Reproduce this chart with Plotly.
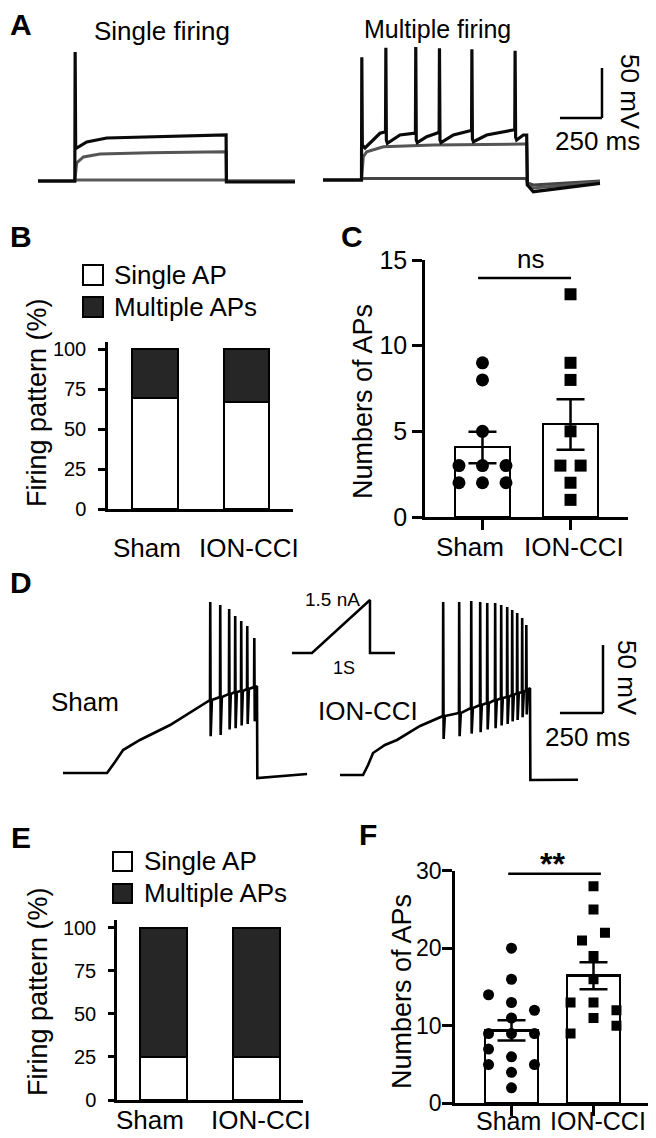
import plotly.graph_objects as go

# the page body keeps its default 8 px margin, so the figure is drawn 8 px in
W, H = 656, 1138
OFF = 8
FW, FH = W - OFF, H - OFF

# ---------------- panel A : step current traces (ms, mV) ----------------
single_top_t = [0, 219, 221, 224, 230, 290, 409, 666, 1113, 1119, 1121, 1529]
single_top_v = [-65, -65, 64, -30, -32, -26, -22, -21, -19, -19, -66, -66]
single_mid_t = [0, 219, 230, 270, 369, 666, 1113, 1119, 1121, 1529]
single_mid_v = [-65, -65, -47, -41, -38, -36.7, -35.7, -35.7, -65, -65]
single_low_t = [0, 219, 222, 1119, 1122, 1529]
single_low_v = [-65, -65, -64, -64, -65, -65]

multi_top_t = [0, 229, 231, 234, 250, 339, 372, 374, 377, 383, 458, 537, 550, 552, 555, 561, 617, 676,
               691, 693, 696, 702, 776, 875, 884, 886, 889, 895, 974, 1132, 1141, 1143, 1146, 1152,
               1192, 1212, 1216, 1251, 1648]
multi_top_v = [-65, -65, 57.7, -30, -33, -18.3, -16.7, 67.3, -25, -28.3, -20, -18.3, -18, 68, -25, -27.7,
               -21.7, -18.3, -17, 66.7, -25, -27.7, -20, -15.7, -15.5, 65.7, -24, -26.7, -20, -15, -15,
               64.3, -22, -25, -20, -20, -70, -76.7, -68.3]
multi_mid_t = [0, 229, 240, 260, 359, 656, 1198, 1212, 1216, 1251, 1648]
multi_mid_v = [-65, -65, -41.7, -36.7, -31.7, -30, -29, -29, -70, -73, -67]
multi_low_t = [0, 229, 233, 1210, 1216, 1251, 1648]
multi_low_v = [-65, -65, -63.5, -63.5, -68, -70, -66]

# ---------------- panel D : ramp current traces ----------------
sham_ramp_t = [0, 256, 302, 349, 447, 622]
sham_ramp_v = [-65, -65, -56.9, -48.1, -40.7, -29.7]
sham_spike_t = [854, 912, 964, 999, 1034, 1069, 1110]
sham_spike_base = [-11.3, -9.1, -6.9, -5.4, -4.7, -3.2, -1.8]
sham_spike_peak = [60.7, 58.5, 55.6, 50.4, 46.8, 43.1, 34.3]
sham_spike_trough = [-38, -37, -33, -32, -30, -29, -27]
sham_tail_t = [1127, 1129, 1418]
sham_tail_v = [-1.0, -68.7, -65.7]

ion_ramp_t = [0, 134, 163, 192, 261, 331, 465]
ion_ramp_v = [-66.5, -66.5, -59.1, -50.3, -44.4, -40.7, -30.4]
ion_spike_t = [598, 691, 761, 813, 854, 900, 935, 970, 999, 1028, 1057, 1081]
ion_spike_base = [-23.1, -20.9, -17.2, -15, -13.5, -11.3, -9.9, -9.1, -7.6, -6.2, -5.4, -4.0]
ion_spike_peak = [60.7, 60.7, 61.5, 60.7, 60.0, 60.0, 58.5, 57.1, 54.9, 52.6, 49.0, 43.8]
ion_spike_trough = [-40, -38, -36, -35, -33, -32, -30, -29, -27, -26, -24, -22]
ion_tail_t = [1104, 1106, 1383]
ion_tail_v = [-2.5, -70.1, -70.0]

stim_t = [-345, 0, 1000, 1000, 1431]
stim_i = [0, 0, 1.5, 0, 0]

# ---------------- bar panels ----------------
categories = ["Sham", "ION-CCI"]
b_single = [69.2, 66.7]
b_multiple = [30.8, 33.3]

c_sham = [9, 8, 5, 3, 3, 3, 2, 2, 2]
c_sham_lane = [0, 0, 0, -1, 0, 1, -1, 0, 1]
c_ion = [13, 9, 8, 5, 3, 3, 2, 1]
c_ion_lane = [0, 0, 0, 0, -0.43, 0.43, 0, 0]
c_mean = [4.06, 5.4]
c_sem = [0.92, 1.47]

e_single = [25, 25]
e_multiple = [75, 75]

f_sham = [20, 16, 14, 13, 12, 11, 9, 9, 9, 7, 6, 5, 5, 4, 2]
f_sham_lane = [0, 0, -1, 0, 1, 0, -1, 0, 1, -1, 0, -1, 1, 0, 0]
f_ion = [28, 25, 22, 21, 19, 16, 13, 13, 12, 11, 9, 10]
f_ion_lane = [0, 0, 0.5, -0.5, 0, 0, -1, 0, 1, 0, -1, 1]
f_mean = [9.4, 16.45]
f_sem = [1.3, 1.75]

DARK = "#262626"
FONT = "Liberation Sans, Arial, sans-serif"


def px(x):
    return (x - OFF) / FW


def py(y):
    return 1 - (y - OFF) / FH


def spike_path(ramp_t, ramp_v, sp_t, sp_base, sp_peak, sp_trough, tail_t, tail_v):
    # ramp, then each spike: up to peak, down to AHP trough, back onto the ramp
    t, v = list(ramp_t), list(ramp_v)
    for ts, b, p, tr in zip(sp_t, sp_base, sp_peak, sp_trough):
        t += [ts, ts + 1.5, ts + 4, ts + 11]
        v += [b, p, tr, b]
    return t + tail_t, v + tail_v


fig = go.Figure()

# ---- A traces
for tt, vv, col, w in [(single_low_t, single_low_v, "#5a5a5a", 3),
                       (single_mid_t, single_mid_v, "#555555", 3),
                       (single_top_t, single_top_v, "#0a0a0a", 3.2)]:
    fig.add_trace(go.Scatter(x=tt, y=vv, mode="lines", line=dict(color=col, width=w),
                             xaxis="x", yaxis="y"))
for tt, vv, col, w in [(multi_low_t, multi_low_v, "#444444", 3),
                       (multi_mid_t, multi_mid_v, "#555555", 3),
                       (multi_top_t, multi_top_v, "#0a0a0a", 3.2)]:
    fig.add_trace(go.Scatter(x=tt, y=vv, mode="lines", line=dict(color=col, width=w),
                             xaxis="x2", yaxis="y2"))

# ---- D traces
st, sv = spike_path(sham_ramp_t, sham_ramp_v, sham_spike_t, sham_spike_base,
                    sham_spike_peak, sham_spike_trough, sham_tail_t, sham_tail_v)
fig.add_trace(go.Scatter(x=st, y=sv, mode="lines", line=dict(color="black", width=2.6),
                         xaxis="x5", yaxis="y5"))
it, iv = spike_path(ion_ramp_t, ion_ramp_v, ion_spike_t, ion_spike_base,
                    ion_spike_peak, ion_spike_trough, ion_tail_t, ion_tail_v)
fig.add_trace(go.Scatter(x=it, y=iv, mode="lines", line=dict(color="black", width=2.6),
                         xaxis="x6", yaxis="y6"))
fig.add_trace(go.Scatter(x=stim_t, y=stim_i, mode="lines", line=dict(color="black", width=2.5),
                         xaxis="x7", yaxis="y7"))

bar_line = dict(color="black", width=2.5)

# ---- B stacked bars
fig.add_trace(go.Bar(x=[0, 1], y=b_single, width=0.5, marker=dict(color="white", line=bar_line),
                     xaxis="x3", yaxis="y3"))
fig.add_trace(go.Bar(x=[0, 1], y=b_multiple, width=0.5, marker=dict(color=DARK, line=bar_line),
                     xaxis="x3", yaxis="y3"))

# ---- E stacked bars
fig.add_trace(go.Bar(x=[0, 1], y=e_single, width=0.505, marker=dict(color="white", line=bar_line),
                     xaxis="x8", yaxis="y8"))
fig.add_trace(go.Bar(x=[0, 1], y=e_multiple, width=0.505, marker=dict(color=DARK, line=bar_line),
                     xaxis="x8", yaxis="y8"))


def dot_panel(xa, ya, mean, sem, sham, sham_lane, ion, ion_lane, bw, lane, msize):
    fig.add_trace(go.Bar(x=[0, 1], y=mean, width=bw, marker=dict(color="white", line=bar_line),
                         xaxis=xa, yaxis=ya))
    fig.add_trace(go.Scatter(x=[l * lane for l in sham_lane], y=sham, mode="markers",
                             marker=dict(symbol="circle", size=msize, color="black"),
                             xaxis=xa, yaxis=ya))
    fig.add_trace(go.Scatter(x=[1 + l * lane for l in ion_lane], y=ion, mode="markers",
                             marker=dict(symbol="square", size=msize - 1, color="black"),
                             xaxis=xa, yaxis=ya))
    fig.add_trace(go.Scatter(x=[0, 1], y=mean, mode="markers",
                             marker=dict(size=1, color="rgba(0,0,0,0)"),
                             error_y=dict(type="data", array=sem, color="black", thickness=2.5, width=14),
                             xaxis=xa, yaxis=ya))


dot_panel("x4", "y4", c_mean, c_sem, c_sham, c_sham_lane, c_ion, c_ion_lane, 0.625, 0.267, 13)
dot_panel("x9", "y9", f_mean, f_sem, f_sham, f_sham_lane, f_ion, f_ion_lane, 0.646, 0.28, 11)


# ---------------- axes ----------------
def hidden(xd, yd, xr, yr):
    return (dict(domain=xd, range=xr, visible=False, fixedrange=True, automargin=False),
            dict(domain=yd, range=yr, visible=False, fixedrange=True, automargin=False))


def stat_axes(xd, yd, xr, yr, ytick, yfont, xticks, ystand, ylen):
    # category names are placed as text below (they sit off-centre in the original)
    xa = dict(domain=xd, range=xr, showline=True, linecolor="black", linewidth=2.5,
              tickvals=[0, 1], showticklabels=False, ticks="outside" if xticks else "",
              ticklen=10, tickwidth=2.5, tickcolor="black", showgrid=False, zeroline=False,
              automargin=False)
    ya = dict(domain=yd, range=yr, showline=True, linecolor="black", linewidth=2.5,
              tickvals=ytick, ticks="outside", ticklen=ylen, tickwidth=2.5, tickcolor="black",
              showgrid=False, zeroline=False, tickfont=dict(size=yfont, color="black"),
              ticklabelstandoff=ystand, automargin=False)
    return xa, ya


ax = {}
ax["xaxis"], ax["yaxis"] = hidden([px(38), px(295)], [py(200), py(40)], [0, 1529], [-84, 76])
ax["xaxis2"], ax["yaxis2"] = hidden([px(323), px(612)], [py(200), py(40)], [0, 1719.6], [-85, 75])
ax["xaxis5"], ax["yaxis5"] = hidden([px(55), px(312)], [py(790), py(590)], [-46.5, 1446.7], [-77.5, 69.6])
ax["xaxis6"], ax["yaxis6"] = hidden([px(335), px(612)], [py(790), py(590)], [-29.05, 1580.3], [-77.5, 69.6])
ax["xaxis7"], ax["yaxis7"] = hidden([px(290), px(398)], [py(660), py(595)], [-379, 1483], [-0.198, 1.642])

ax["xaxis3"], ax["yaxis3"] = stat_axes([px(108), px(293)], [py(509), py(342)], [-0.514, 1.508],
                                       [0, 104.4], [0, 25, 50, 75, 100], 20, False, 8, 7)
ax["xaxis4"], ax["yaxis4"] = stat_axes([px(425), px(628)], [py(517), py(260)], [-0.653, 1.653],
                                       [0, 15], [0, 5, 10, 15], 25, True, 0, 10)
ax["xaxis8"], ax["yaxis8"] = stat_axes([px(117), px(303)], [py(1100), py(920)], [-0.5, 1.5],
                                       [0, 104.6], [0, 25, 50, 75, 100], 20, False, 8, 6)
ax["xaxis9"], ax["yaxis9"] = stat_axes([px(455), px(650)], [py(1103.3), py(870.7)], [-0.689, 1.689],
                                       [0, 30], [0, 10, 20, 30], 23, True, -4, 10)
for i in (3, 4, 8, 9):
    ax["xaxis%d" % i]["anchor"] = "y%d" % i
    ax["yaxis%d" % i]["anchor"] = "x%d" % i
for i in (1, 2, 5, 6, 7):
    k = "" if i == 1 else str(i)
    ax["xaxis" + k]["anchor"] = "y" + k
    ax["yaxis" + k]["anchor"] = "x" + k

# ---------------- shapes: scale bars, significance lines, legend boxes ----------------
blk = dict(color="black", width=2.5)
shapes = [
    # A scale bar (250 ms, 50 mV)
    dict(type="line", xref="x2", yref="y2", x0=1660, x1=1660, y0=-3, y1=47, line=blk),
    dict(type="line", xref="x2", yref="y2", x0=1410, x1=1660, y0=-3, y1=-3, line=blk),
    # D scale bar
    dict(type="line", xref="x6", yref="y6", x0=1528, x1=1528, y0=-20.9, y1=29.1, line=blk),
    dict(type="line", xref="x6", yref="y6", x0=1278, x1=1528, y0=-20.9, y1=-20.9, line=blk),
    # significance bars
    dict(type="line", xref="x4", yref="y4", x0=-0.05, x1=1.006, y0=13.95, y1=13.95, line=blk),
    dict(type="line", xref="x9", yref="y9", x0=-0.04, x1=1.09, y0=29.6, y1=29.6, line=blk),
]
for top, fill in [(265, "white"), (297, DARK)]:
    shapes.append(dict(type="rect", xref="paper", yref="paper", x0=px(83), x1=px(103),
                       y0=py(top + 20), y1=py(top), fillcolor=fill, line=dict(color="black", width=2)))
for top, fill in [(852, "white"), (884, DARK)]:
    shapes.append(dict(type="rect", xref="paper", yref="paper", x0=px(113), x1=px(132),
                       y0=py(top + 19), y1=py(top), fillcolor=fill, line=dict(color="black", width=2)))

# ---------------- text ----------------
ann = []


def txt(x, y, s, size=26, angle=0, anchor="center", bold=False, vanchor="middle"):
    ann.append(dict(x=px(x), y=py(y), xref="paper", yref="paper", text="<b>%s</b>" % s if bold else s,
                    showarrow=False, xanchor=anchor, yanchor=vanchor, textangle=angle,
                    font=dict(size=size, color="black", family=FONT)))


for lab, x, y in [("A", 21, 25), ("B", 21, 236), ("C", 352, 236), ("D", 21, 582), ("E", 21, 837), ("F", 368, 834)]:
    txt(x, y, lab, size=30, bold=True)

txt(162, 31, "Single firing")
txt(438, 29, "Multiple firing", size=25)
txt(630, 92, "50 mV", angle=90)
txt(597, 141, "250 ms")

txt(112, 275, "Single AP", anchor="left")
txt(112, 307, "Multiple APs", anchor="left")
txt(142, 861, "Single AP", anchor="left")
txt(142, 893, "Multiple APs", anchor="left")

txt(37, 403, "Firing pattern (%)", size=27, angle=-90)
txt(38, 992, "Firing pattern (%)", size=27, angle=-90)
txt(363, 402, "Numbers of APs", size=27, angle=-90)
txt(402, 992, "Numbers of APs", size=27, angle=-90)

# category names under each bar panel
txt(147, 548, categories[0])
txt(249, 548, categories[1])
txt(470, 547, categories[0])
txt(574, 547, categories[1])
txt(150, 1137, categories[0], vanchor="bottom")
txt(261, 1137, categories[1], vanchor="bottom")
txt(508, 1137, categories[0], size=25, vanchor="bottom")
txt(598, 1137, categories[1], size=25, vanchor="bottom")

txt(530, 259, "ns")
txt(552, 864, "**", size=32, bold=True)

txt(85, 702, "Sham")
txt(368, 711, "ION-CCI")
txt(332, 599, "1.5 nA", size=19)
txt(344, 668, "1S", size=18)
txt(627, 678, "50 mV", angle=90)
txt(587, 737, "250 ms")

fig.update_layout(
    width=FW, height=FH, margin=dict(l=0, r=0, t=0, b=0, autoexpand=False),
    paper_bgcolor="white", plot_bgcolor="white",
    showlegend=False, barmode="stack", bargap=0,
    font=dict(family=FONT, color="black"),
    shapes=shapes, annotations=ann, **ax
)

fig.write_html("out.html")
